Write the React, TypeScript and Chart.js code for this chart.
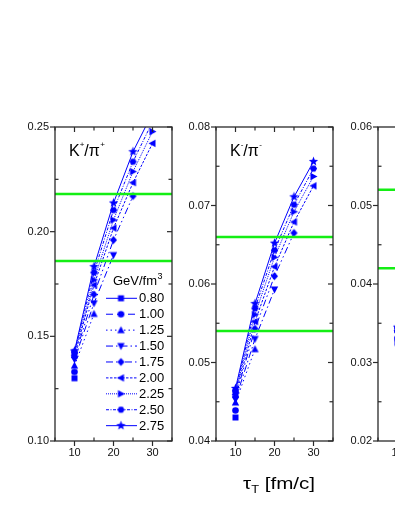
import React, { useEffect, useRef } from 'react';
import { Chart, registerables } from 'chart.js';

Chart.register(...registerables);

// ---------------- DATA ----------------
const tauValues = [10, 15, 20, 25, 30];
const energyDensities = ['0.80', '1.00', '1.25', '1.50', '1.75', '2.00', '2.25', '2.50', '2.75'];

// K+/pi+ ratio, one row per energy density (null = no point)
const kPlusPiPlus: (number | null)[][] = [
  [0.130, null, null, null, null],
  [0.133, null, null, null, null],
  [0.136, 0.1607, null, null, null],
  [0.139, 0.1658, 0.1888, null, null],
  [0.140, 0.170, 0.196, 0.217, null],
  [0.141, 0.1745, 0.2017, 0.2234, 0.2422],
  [0.142, 0.177, 0.2056, 0.2287, 0.2478],
  [0.1425, 0.1805, 0.2103, 0.2334, 0.2525],
  [0.143, 0.1833, 0.2137, 0.2382, 0.2567],
];

// K-/pi- ratio
const kMinusPiMinus: (number | null)[][] = [
  [0.0430, null, null, null, null],
  [0.0439, null, null, null, null],
  [0.0449, 0.0517, null, null, null],
  [0.0453, 0.0530, 0.0593, null, null],
  [0.0456, 0.0543, 0.0610, 0.0665, null],
  [0.0459, 0.0552, 0.0622, 0.0679, 0.0725],
  [0.0462, 0.0561, 0.0634, 0.0692, 0.0737],
  [0.0464, 0.0569, 0.0643, 0.0701, 0.0747],
  [0.0467, 0.0575, 0.0652, 0.0711, 0.0756],
];

// third (cut-off) panel ratio
const thirdRatio: (number | null)[][] = [
  [0.0325, null, null, null, null],
  [0.0330, null, null, null, null],
  [0.0335, 0.0380, null, null, null],
  [0.0337, 0.0390, 0.0430, null, null],
  [0.0339, 0.0400, 0.0440, 0.0470, null],
  [0.0341, 0.0405, 0.0450, 0.0480, 0.0510],
  [0.0342, 0.0410, 0.0460, 0.0490, 0.0520],
  [0.0344, 0.0415, 0.0465, 0.0500, 0.0530],
  [0.0345, 0.0420, 0.0470, 0.0510, 0.0540],
];

// experimental bands (green lines)
const bandKPlus = [0.186, 0.218];
const bandKMinus = [0.054, 0.066];
const bandThird = [0.042, 0.052];

// ticks
const xMajorTicks = [10, 20, 30];
const xMinorTicks = [5, 15, 25, 35];
const yTicksKPlus = [0.10, 0.15, 0.20, 0.25];
const yMinorKPlus = [0.125, 0.175, 0.225];
const yTicksKMinus = [0.04, 0.05, 0.06, 0.07, 0.08];
const yMinorKMinus = [0.045, 0.055, 0.065, 0.075];
const yTicksThird = [0.02, 0.03, 0.04, 0.05, 0.06];
const yMinorThird = [0.025, 0.035, 0.045, 0.055];

// ---------------- STYLE ----------------
const BLUE = '#0000ff';
const GREEN = '#14ee14';
const FRAME = '#2a2a2a';
const FONT = '"Liberation Sans", Arial, Helvetica, sans-serif';

const markerShapes = ['square', 'circle', 'up', 'down', 'diamond', 'left', 'right', 'hexagon', 'star'];
const dashPatterns: number[][] = [
  [],
  [7, 4],
  [1.5, 3],
  [7, 3, 1.5, 3],
  [7, 3, 1.5, 3, 1.5, 3],
  [2.5, 1.5],
  [1, 1],
  [3, 1.5, 1, 1.5],
  [],
];

const markerCache: Record<string, HTMLCanvasElement> = {};
function makeMarker(shape: string): HTMLCanvasElement {
  if (markerCache[shape]) return markerCache[shape];
  const c = document.createElement('canvas');
  c.width = 11;
  c.height = 11;
  const g = c.getContext('2d')!;
  g.fillStyle = BLUE;
  const cx = 5.5, cy = 5.5;
  const poly = (pts: number[][]) => {
    pts.forEach((p, i) => (i === 0 ? g.moveTo(cx + p[0], cy + p[1]) : g.lineTo(cx + p[0], cy + p[1])));
    g.closePath();
  };
  g.beginPath();
  switch (shape) {
    case 'square': g.rect(cx - 3, cy - 3, 6, 6); break;
    case 'circle': g.arc(cx, cy, 3.3, 0, Math.PI * 2); break;
    case 'hexagon': {
      const pts: number[][] = [];
      for (let i = 0; i < 6; i++) {
        const a = (i * Math.PI) / 3;
        pts.push([3.6 * Math.cos(a), 3.6 * Math.sin(a)]);
      }
      poly(pts);
      break;
    }
    case 'up': poly([[0, -4], [3.7, 3], [-3.7, 3]]); break;
    case 'down': poly([[0, 4], [3.7, -3], [-3.7, -3]]); break;
    case 'left': poly([[-4, 0], [3, -3.7], [3, 3.7]]); break;
    case 'right': poly([[4, 0], [-3, -3.7], [-3, 3.7]]); break;
    case 'diamond': poly([[0, -3.9], [3.6, 0], [0, 3.9], [-3.6, 0]]); break;
    case 'star': {
      const pts: number[][] = [];
      for (let i = 0; i < 10; i++) {
        const r = i % 2 === 0 ? 4.9 : 2.1;
        const a = -Math.PI / 2 + (i * Math.PI) / 5;
        pts.push([r * Math.cos(a), r * Math.sin(a)]);
      }
      poly(pts);
      break;
    }
  }
  g.fill();
  markerCache[shape] = c;
  return c;
}

// ---------------- PANELS ----------------
const PLOT_W = 117;
const AXIS_W = 55;
const CANVAS_W = AXIS_W + PLOT_W + 10;
const CANVAS_H = 511;
const PLOT_TOP = 127;
const PLOT_BOTTOM = 441;

interface PanelCfg {
  plotLeft: number;
  values: (number | null)[][];
  band: number[];
  yMin: number;
  yMax: number;
  yTicks: number[];
  yMinor: number[];
  title?: { a: string; supA: string; b: string; supB: string };
  legend?: boolean;
  xTitle?: boolean;
}

const panels: PanelCfg[] = [
  {
    plotLeft: 55, values: kPlusPiPlus, band: bandKPlus, yMin: 0.10, yMax: 0.25,
    yTicks: yTicksKPlus, yMinor: yMinorKPlus,
    title: { a: 'K', supA: '+', b: '/π', supB: '+' }, legend: true,
  },
  {
    plotLeft: 216, values: kMinusPiMinus, band: bandKMinus, yMin: 0.04, yMax: 0.08,
    yTicks: yTicksKMinus, yMinor: yMinorKMinus,
    title: { a: 'K', supA: '-', b: '/π', supB: '-' }, xTitle: true,
  },
  {
    plotLeft: 378, values: thirdRatio, band: bandThird, yMin: 0.02, yMax: 0.06,
    yTicks: yTicksThird, yMinor: yMinorThird,
  },
];

function buildConfig(cfg: PanelCfg): any {
  const seriesDatasets = cfg.values.map((row, i) => ({
    type: 'line',
    label: energyDensities[i],
    data: row
      .map((v, j) => (v === null ? null : { x: tauValues[j], y: v }))
      .filter((p) => p !== null),
    borderColor: BLUE,
    backgroundColor: BLUE,
    borderWidth: 1,
    borderDash: dashPatterns[i],
    pointStyle: makeMarker(markerShapes[i]),
    pointRadius: 4,
    pointHoverRadius: 4,
    tension: 0,
    isSeries: true,
    markerShape: markerShapes[i],
  }));
  const bandDatasets = cfg.band.map((v) => ({
    type: 'line',
    label: 'band',
    data: [{ x: 5, y: v }, { x: 35, y: v }],
    borderColor: GREEN,
    borderWidth: 2.5,
    pointRadius: 0,
    isSeries: false,
  }));

  const framePlugin = {
    id: 'frameTicks',
    afterDraw(chart: any) {
      const { ctx, chartArea } = chart;
      const xs = chart.scales.x;
      const ys = chart.scales.y;
      const { left, right, top, bottom } = chartArea;
      ctx.save();
      ctx.strokeStyle = FRAME;
      ctx.lineWidth = 1.3;
      ctx.setLineDash([]);
      ctx.strokeRect(left, top, right - left, bottom - top);
      ctx.lineWidth = 1.2;
      const line = (x1: number, y1: number, x2: number, y2: number) => {
        ctx.beginPath();
        ctx.moveTo(x1, y1);
        ctx.lineTo(x2, y2);
        ctx.stroke();
      };
      cfg.yTicks.forEach((v) => {
        const y = ys.getPixelForValue(v);
        line(left - 5, y, left, y);
        line(right - 5, y, right, y);
      });
      cfg.yMinor.forEach((v) => {
        const y = ys.getPixelForValue(v);
        line(left, y, left + 3.5, y);
        line(right - 3.5, y, right, y);
      });
      xMajorTicks.forEach((v) => {
        const x = xs.getPixelForValue(v);
        line(x, bottom, x, bottom + 5);
        line(x, top, x, top + 5);
      });
      xMinorTicks.forEach((v) => {
        const x = xs.getPixelForValue(v);
        line(x, bottom - 3.5, x, bottom);
        line(x, top, x, top + 3.5);
      });

      // panel title
      if (cfg.title) {
        const t = cfg.title;
        let x = left + 14;
        const base = 156;
        ctx.fillStyle = '#000';
        ctx.textBaseline = 'alphabetic';
        ctx.textAlign = 'left';
        const big = `16px ${FONT}`;
        const small = `8px ${FONT}`;
        ctx.font = big; ctx.fillText(t.a, x, base); x += ctx.measureText(t.a).width;
        ctx.font = small; ctx.fillText(t.supA, x, base - 9); x += ctx.measureText(t.supA).width;
        ctx.font = big; ctx.fillText(t.b, x, base); x += ctx.measureText(t.b).width;
        ctx.font = small; ctx.fillText(t.supB, x + 0.5, base - 9);
      }

      // x-axis title (tau_T [fm/c]), stretched to the reference width
      if (cfg.xTitle) {
        const big = `16px ${FONT}`;
        const sub = `10px ${FONT}`;
        const base = 489;
        const targetW = 72;
        const center = (left + right) / 2 + 4.5;
        ctx.font = big;
        const w1 = ctx.measureText('τ').width;
        const w3 = ctx.measureText(' [fm/c]').width;
        ctx.font = sub;
        const w2 = ctx.measureText('T').width;
        const natural = w1 + w2 + w3;
        const sx = targetW / natural;
        ctx.save();
        ctx.translate(center - targetW / 2, base);
        ctx.scale(sx, 1);
        ctx.fillStyle = '#000';
        ctx.textAlign = 'left';
        ctx.textBaseline = 'alphabetic';
        let x = 0;
        ctx.font = big; ctx.fillText('τ', x, 0); x += w1;
        ctx.font = sub; ctx.fillText('T', x, 4); x += w2;
        ctx.font = big; ctx.fillText(' [fm/c]', x, 0);
        ctx.restore();
      }

      // legend
      if (cfg.legend) {
        ctx.fillStyle = '#000';
        ctx.textAlign = 'left';
        ctx.textBaseline = 'alphabetic';
        ctx.font = `13px ${FONT}`;
        const hx = 113;
        ctx.fillText('GeV/fm', hx, 285);
        const hw = ctx.measureText('GeV/fm').width;
        ctx.font = `9px ${FONT}`;
        ctx.fillText('3', hx + hw + 0.5, 279);
        const series = chart.data.datasets.filter((d: any) => d.isSeries);
        series.forEach((d: any, i: number) => {
          const y = 298.3 + i * 15.92;
          ctx.strokeStyle = BLUE;
          ctx.lineWidth = 1;
          ctx.setLineDash(d.borderDash || []);
          line(106, y, 137, y);
          ctx.setLineDash([]);
          const img = makeMarker(d.markerShape);
          ctx.drawImage(img, 121 - img.width / 2, y - img.height / 2);
          ctx.fillStyle = '#000';
          ctx.font = `13px ${FONT}`;
          ctx.textBaseline = 'middle';
          ctx.fillText(d.label, 139, y + 0.5);
        });
      }
      ctx.restore();
    },
  };

  return {
    type: 'line',
    data: { datasets: [...bandDatasets, ...seriesDatasets] },
    options: {
      animation: false,
      responsive: false,
      devicePixelRatio: 1,
      events: [],
      layout: { padding: { left: 0, right: CANVAS_W - AXIS_W - PLOT_W, top: PLOT_TOP, bottom: CANVAS_H - PLOT_BOTTOM - 30 } },
      plugins: { legend: { display: false }, tooltip: { enabled: false }, title: { display: false } },
      scales: {
        x: {
          type: 'linear',
          min: 5,
          max: 35,
          grid: { display: false, drawTicks: false },
          border: { display: false },
          ticks: { padding: 5, color: '#111', font: { family: FONT, size: 11 }, maxRotation: 0 },
          afterBuildTicks: (s: any) => { s.ticks = xMajorTicks.map((v) => ({ value: v })); },
          afterFit: (s: any) => { s.height = 30; },
        },
        y: {
          type: 'linear',
          min: cfg.yMin,
          max: cfg.yMax,
          grid: { display: false, drawTicks: false },
          border: { display: false },
          ticks: {
            padding: 6,
            color: '#111',
            font: { family: FONT, size: 11 },
            callback: (v: number) => Number(v).toFixed(2),
          },
          afterBuildTicks: (s: any) => { s.ticks = cfg.yTicks.map((v) => ({ value: v })); },
          afterFit: (s: any) => { s.width = AXIS_W; },
        },
      },
    },
    plugins: [framePlugin],
  };
}

function Panel({ cfg }: { cfg: PanelCfg }) {
  const ref = useRef<HTMLCanvasElement>(null);
  useEffect(() => {
    const chart = new Chart(ref.current as HTMLCanvasElement, buildConfig(cfg));
    return () => chart.destroy();
  }, [cfg]);
  return (
    <canvas
      ref={ref}
      width={CANVAS_W}
      height={CANVAS_H}
      style={{ position: 'absolute', left: cfg.plotLeft - AXIS_W, top: 0, width: CANVAS_W, height: CANVAS_H }}
    />
  );
}

export default function App() {
  return (
    <div
      style={{
        position: 'fixed',
        left: 0,
        top: 0,
        width: 395,
        height: 511,
        overflow: 'hidden',
        background: '#fff',
      }}
    >
      {panels.map((p, i) => (
        <Panel key={i} cfg={p} />
      ))}
    </div>
  );
}
